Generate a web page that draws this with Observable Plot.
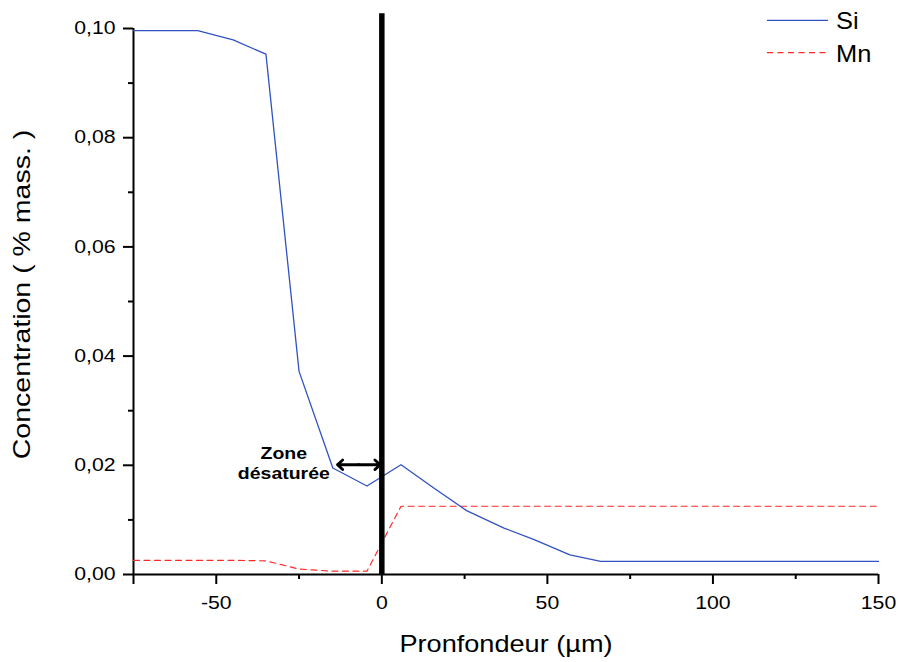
<!DOCTYPE html>
<html>
<head>
<meta charset="utf-8">
<script src="https://cdn.jsdelivr.net/npm/d3@7"></script>
<script src="https://cdn.jsdelivr.net/npm/@observablehq/plot@0.6"></script>
<style>
  html, body { margin: 0; padding: 0; background: #fff; }
  #chart { position: relative; width: 899px; height: 662px; }
</style>
</head>
<body>
<div id="chart"></div>
<script>
// ---- data ----
const siDepth = [-75, -55.6, -44.9, -35.0, -25.0, -14.8, -4.5, 5.8, 15.8, 25.6, 36.9, 46.0, 56.8, 66.1, 150];
const siConc  = [0.0996, 0.0996, 0.0979, 0.0953, 0.0372, 0.0195, 0.0162, 0.0201, 0.0158, 0.0117, 0.0085, 0.0064, 0.0036, 0.0024, 0.0024];
const mnDepth = [-75, -55.6, -44.9, -35.0, -25.0, -14.8, -4.5, 5.8, 150];
const mnConc  = [0.0026, 0.0026, 0.0026, 0.0025, 0.0010, 0.0006, 0.0006, 0.0125, 0.0125];

const xMajorTicks = [-75, -50, 0, 50, 100, 150];
const xMinorTicks = [-25, 25, 75, 125];
const yMajorTicks = [0, 0.02, 0.04, 0.06, 0.08, 0.10];
const yMinorTicks = [0.01, 0.03, 0.05, 0.07, 0.09];

const interfaceDepth = [0];
const interfaceTop = 0.1027;
const zoneLabel = ["Zone\ndésaturée"];
const zoneArrowStart = -7;
const zoneArrowEnds = [-13.4, -0.5];
const zoneLevel = 0.0201;
const zoneLabelPos = {x: -29.6, y: 0.0205};

const xLabel = "Pronfondeur (µm)";
const yLabel = "Concentration ( % mass. )";
const seriesNames = ["Si", "Mn"];

const si = siDepth.map((d, i) => ({depth: d, conc: siConc[i]}));
const mn = mnDepth.map((d, i) => ({depth: d, conc: mnConc[i]}));

const SI_COLOR = "#3152c0";
const MN_COLOR = "#ff2a2a";
const FONT = "'Liberation Sans', Arial, sans-serif";

const fmtY = d => d.toFixed(2).replace(".", ",");
const fmtX = d => d === -75 ? "" : String(d);

const chart = Plot.plot({
  width: 899,
  height: 662,
  marginLeft: 133,
  marginRight: 21,
  marginTop: 28,
  marginBottom: 88,
  style: {fontFamily: FONT, fontSize: "18px", color: "black", background: "white", overflow: "visible"},
  x: {domain: [-75, 150], label: null},
  y: {domain: [0, 0.1], label: null},
  marks: [
    Plot.axisX(xMajorTicks, {tickSize: 10, tickPadding: 12, strokeWidth: 2, tickFormat: fmtX, fontSize: 18, label: null}),
    Plot.axisX(xMinorTicks, {tickSize: 5, strokeWidth: 2, tickFormat: () => "", label: null}),
    Plot.axisY(yMajorTicks, {tickSize: 10, tickPadding: 8, strokeWidth: 2, tickFormat: fmtY, fontSize: 18, label: null}),
    Plot.axisY(yMinorTicks, {tickSize: 5, strokeWidth: 2, tickFormat: () => "", label: null}),
    Plot.ruleY([0], {strokeWidth: 2}),
    Plot.ruleX([-75], {strokeWidth: 2}),
    Plot.line(mn, {x: "depth", y: "conc", stroke: MN_COLOR, strokeWidth: 1.2, strokeDasharray: "6,4.5"}),
    Plot.line(si, {x: "depth", y: "conc", stroke: SI_COLOR, strokeWidth: 1.3}),
    Plot.ruleX(interfaceDepth, {y1: 0, y2: interfaceTop, stroke: "black", strokeWidth: 5.5}),
    Plot.arrow(zoneArrowEnds, {x1: () => zoneArrowStart, y1: () => zoneLevel, x2: d => d, y2: () => zoneLevel,
      stroke: "black", strokeWidth: 2.8, headLength: 11, headAngle: 85, bend: 0}),
    Plot.text(zoneLabel, {x: () => zoneLabelPos.x, y: () => zoneLabelPos.y, text: d => d, fontSize: 16.5, fontWeight: "bold",
      lineAnchor: "middle", textAnchor: "middle", lineHeight: 1.2, fill: "black"}),
    Plot.text([xLabel], {frameAnchor: "bottom", dy: 61, lineAnchor: "top", textAnchor: "middle", fontSize: 23, fill: "black"}),
    Plot.text([yLabel], {frameAnchor: "left", rotate: -90, dx: -120, dy: -7, lineAnchor: "top", textAnchor: "middle", fontSize: 23, fill: "black"})
  ]
});

const svg = d3.select(chart);

// the reference's lettering runs wider than Arial metrics
svg.selectAll("text").each(function () {
  const t = this.getAttribute("transform") || "";
  const s = this.textContent === yLabel ? 1.24 : 1.18;
  this.setAttribute("transform", (t + ` scale(${s},1)`).trim());
});

// legend (top right)
const legend = svg.append("g").attr("class", "legend").attr("font-family", FONT).attr("font-size", 24).attr("text-anchor", "start");
const legendRows = [
  {name: seriesNames[0], color: SI_COLOR, dash: null, y: 20.3},
  {name: seriesNames[1], color: MN_COLOR, dash: "6,4.5", y: 52.7}
];
for (const r of legendRows) {
  legend.append("line").attr("x1", 767).attr("x2", 828).attr("y1", r.y).attr("y2", r.y)
    .attr("stroke", r.color).attr("stroke-width", r.dash ? 1.2 : 1.3).attr("stroke-dasharray", r.dash);
  legend.append("text").attr("transform", `translate(836,${r.y + 9}) scale(1.06,1)`).attr("fill", "black").text(r.name);
}

document.getElementById("chart").appendChild(chart);
</script>
</body>
</html>
